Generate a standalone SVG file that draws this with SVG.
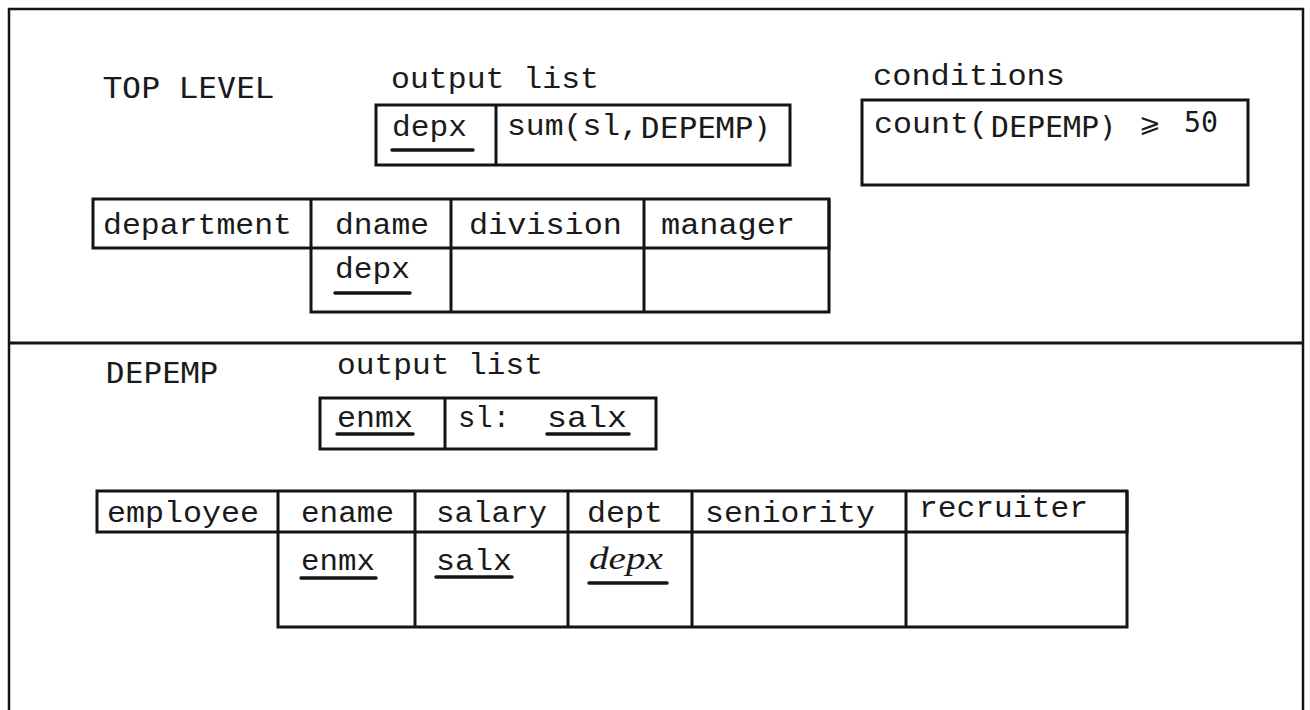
<svg xmlns="http://www.w3.org/2000/svg" width="1310" height="710" viewBox="0 0 1310 710">
  <style>
    .frame{fill:none;stroke:#141414;stroke-width:2.5}
    .box{fill:none;stroke:#141414;stroke-width:3;stroke-linejoin:miter}
    .rule{stroke:#141414;stroke-width:3;fill:none}
    .ul{stroke:#141414;stroke-width:3.5;stroke-linecap:round}
    .tw{font-family:"Liberation Mono","Courier New",monospace;font-size:30px;fill:#1a1a1a}
    .sn{font-family:"DejaVu Sans Mono","Liberation Mono",monospace;font-size:28px;fill:#1a1a1a}
    .it{font-family:"Liberation Serif","Times New Roman",serif;font-style:italic;font-size:31px;fill:#1a1a1a}
    .op{font-family:"DejaVu Sans",sans-serif;font-size:26px;fill:#1a1a1a}
  </style>
  <rect width="1310" height="710" fill="#ffffff"/>

  <!-- outer frame and section divider -->
  <g id="frame">
    <rect class="frame" x="9" y="9" width="1294" height="712"/>
    <line class="rule" x1="9" y1="343" x2="1303" y2="343"/>
  </g>

  <!-- top level query -->
  <g id="top-level">
    <text class="sn" x="103" y="98" textLength="171" lengthAdjust="spacingAndGlyphs">TOP LEVEL</text>
  </g>

  <g id="top-output-list">
    <text class="tw" x="391" y="88" textLength="208" lengthAdjust="spacingAndGlyphs">output list</text>
    <rect class="box" x="376" y="105" width="414" height="60"/>
    <line class="rule" x1="496" y1="105" x2="496" y2="165"/>
    <text class="tw" x="392" y="136" textLength="75" lengthAdjust="spacingAndGlyphs">depx</text>
    <line class="ul" x1="392" y1="150" x2="473" y2="150"/>
    <text class="tw" x="507" y="135" textLength="132" lengthAdjust="spacingAndGlyphs">sum(sl,</text>
    <text class="sn" x="641" y="138" textLength="131" lengthAdjust="spacingAndGlyphs">DEPEMP)</text>
  </g>

  <g id="top-conditions">
    <text class="tw" x="873" y="85" textLength="192" lengthAdjust="spacingAndGlyphs">conditions</text>
    <rect class="box" x="862" y="100" width="386" height="85"/>
    <text class="tw" x="874" y="133" textLength="114" lengthAdjust="spacingAndGlyphs">count(</text>
    <text class="sn" x="991" y="137" textLength="126" lengthAdjust="spacingAndGlyphs">DEPEMP)</text>
    <text class="op" x="1139" y="132">⩾</text>
    <text class="sn" x="1184" y="132" textLength="34" lengthAdjust="spacingAndGlyphs">50</text>
  </g>

  <g id="department-table">
    <rect class="box" x="93" y="199" width="736" height="49"/>
    <polyline class="rule" points="311,199 311,312 829,312 829,199"/>
    <line class="rule" x1="451" y1="199" x2="451" y2="312"/>
    <line class="rule" x1="644" y1="199" x2="644" y2="312"/>
    <text class="tw" x="103" y="234" textLength="189" lengthAdjust="spacingAndGlyphs">department</text>
    <text class="tw" x="335" y="234" textLength="94" lengthAdjust="spacingAndGlyphs">dname</text>
    <text class="tw" x="469" y="234" textLength="153" lengthAdjust="spacingAndGlyphs">division</text>
    <text class="tw" x="661" y="234" textLength="134" lengthAdjust="spacingAndGlyphs">manager</text>
    <text class="tw" x="335" y="278" textLength="75" lengthAdjust="spacingAndGlyphs">depx</text>
    <line class="ul" x1="335" y1="293" x2="410" y2="293"/>
  </g>

  <!-- DEPEMP subquery -->
  <g id="depemp">
    <text class="sn" x="106" y="383" textLength="112" lengthAdjust="spacingAndGlyphs">DEPEMP</text>
  </g>

  <g id="depemp-output-list">
    <text class="tw" x="337" y="374" textLength="206" lengthAdjust="spacingAndGlyphs">output list</text>
    <rect class="box" x="320" y="398" width="336" height="51"/>
    <line class="rule" x1="445" y1="398" x2="445" y2="449"/>
    <text class="tw" x="337" y="427" textLength="76" lengthAdjust="spacingAndGlyphs">enmx</text>
    <line class="ul" x1="337" y1="434" x2="413" y2="434"/>
    <text class="tw" x="458" y="427" textLength="52" lengthAdjust="spacingAndGlyphs">sl:</text>
    <text class="tw" x="547" y="427" textLength="80" lengthAdjust="spacingAndGlyphs">salx</text>
    <line class="ul" x1="547" y1="434" x2="629" y2="434"/>
  </g>

  <g id="employee-table">
    <rect class="box" x="97" y="491" width="1030" height="41"/>
    <polyline class="rule" points="278,491 278,627 1127,627 1127,491"/>
    <line class="rule" x1="415" y1="491" x2="415" y2="627"/>
    <line class="rule" x1="568" y1="491" x2="568" y2="627"/>
    <line class="rule" x1="692" y1="491" x2="692" y2="627"/>
    <line class="rule" x1="906" y1="491" x2="906" y2="627"/>
    <text class="tw" x="107" y="522" textLength="152" lengthAdjust="spacingAndGlyphs">employee</text>
    <text class="tw" x="301" y="522" textLength="93" lengthAdjust="spacingAndGlyphs">ename</text>
    <text class="tw" x="436" y="522" textLength="111" lengthAdjust="spacingAndGlyphs">salary</text>
    <text class="tw" x="587" y="522" textLength="76" lengthAdjust="spacingAndGlyphs">dept</text>
    <text class="tw" x="705" y="522" textLength="170" lengthAdjust="spacingAndGlyphs">seniority</text>
    <text class="tw" x="919" y="517" textLength="169" lengthAdjust="spacingAndGlyphs">recruiter</text>
    <text class="tw" x="301" y="570" textLength="74" lengthAdjust="spacingAndGlyphs">enmx</text>
    <line class="ul" x1="301" y1="578" x2="376" y2="578"/>
    <text class="tw" x="436" y="570" textLength="76" lengthAdjust="spacingAndGlyphs">salx</text>
    <line class="ul" x1="436" y1="577" x2="512" y2="577"/>
    <text class="it" x="589" y="569" textLength="74" lengthAdjust="spacingAndGlyphs">depx</text>
    <line class="ul" x1="589" y1="583" x2="667" y2="583"/>
  </g>

  <!-- no connectors in this figure -->
  <g id="connectors"/>
</svg>
